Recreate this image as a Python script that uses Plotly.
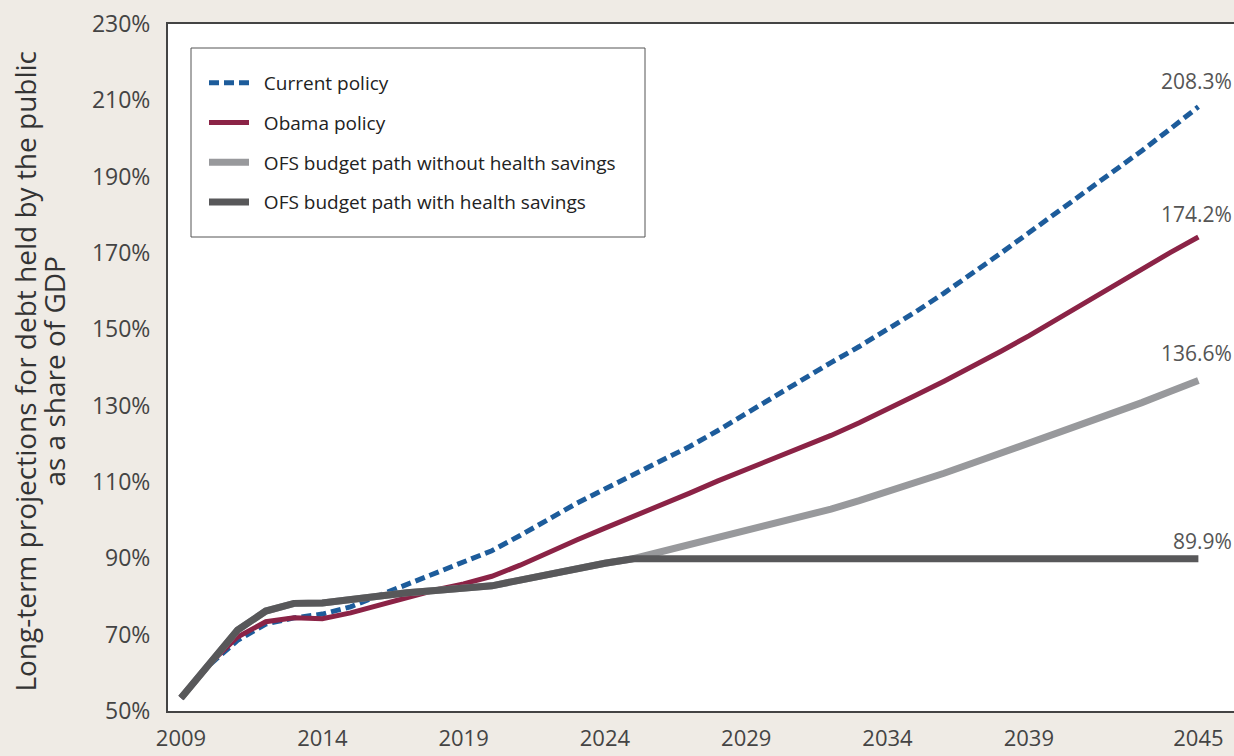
import plotly.graph_objects as go

years = list(range(2009, 2046))

current_policy = [53.4, 62.0, 68.5, 72.8, 74.4, 75.4, 77.3, 80.2, 83.0, 86.0, 88.8,
                  92.0, 96.0, 100.3, 104.4, 108.2, 111.8, 115.4, 119.3, 123.5, 128.0,
                  132.6, 137.0, 141.3, 145.5, 149.9, 154.6, 159.5, 164.6, 169.9, 175.3,
                  180.6, 185.9, 191.3, 196.8, 202.5, 208.3]

obama_policy = [53.4, 62.3, 69.4, 73.4, 74.4, 74.2, 75.7, 77.8, 79.9, 81.7, 83.3,
                85.3, 88.2, 91.6, 94.8, 97.9, 100.9, 104.0, 107.1, 110.3, 113.3,
                116.3, 119.1, 122.2, 125.5, 129.0, 132.7, 136.4, 140.2, 144.2, 148.3,
                152.7, 157.2, 161.6, 165.9, 170.1, 174.2]

ofs_without_health = [53.4, 62.6, 71.2, 76.2, 78.2, 78.3, 79.2, 80.3, 81.0, 81.6, 82.1,
                      82.8, 84.3, 85.9, 87.4, 88.7, 89.9, 91.7, 93.5, 95.4, 97.3,
                      99.1, 100.9, 102.9, 105.1, 107.4, 109.8, 112.3, 114.9, 117.5, 120.1,
                      122.6, 125.3, 128.0, 130.8, 133.7, 136.6]

ofs_with_health = [53.4, 62.6, 71.2, 76.2, 78.2, 78.3, 79.2, 80.3, 81.0, 81.6, 82.1,
                   82.8, 84.3, 85.9, 87.4, 88.7, 89.9, 89.9, 89.9, 89.9, 89.9,
                   89.9, 89.9, 89.9, 89.9, 89.9, 89.9, 89.9, 89.9, 89.9, 89.9,
                   89.9, 89.9, 89.9, 89.9, 89.9, 89.9]

series_names = ["Current policy", "Obama policy",
                "OFS budget path without health savings",
                "OFS budget path with health savings"]
series_values = [current_policy, obama_policy, ofs_without_health, ofs_with_health]

x_tickvals = [2009, 2014, 2019, 2024, 2029, 2034, 2039, 2045]
y_tickvals = [50, 70, 90, 110, 130, 150, 170, 190, 210, 230]
y_ticktext = [f"{v}%" for v in y_tickvals]

line_styles = [
    dict(color="#1d5c9b", width=5, dash="10px,5px"),
    dict(color="#8b2346", width=5),
    dict(color="#98999c", width=7),
    dict(color="#58585a", width=7),
]
label_yshift = [26, 23, 27, 18]

FONT = "Open Sans"
NB = "\u00a0\u00a0"

fig = go.Figure()
for i, (name, vals) in enumerate(zip(series_names, series_values)):
    fig.add_trace(go.Scatter(x=years, y=vals, mode="lines", name=NB + name,
                             line=line_styles[i], legendgroup=f"g{i}"))

annotations = []
for i, vals in enumerate(series_values):
    annotations.append(dict(x=years[-1], y=vals[-1], xref="x", yref="y",
                            text=f"{vals[-1]:.1f}%", showarrow=False,
                            xanchor="right", yanchor="middle", xshift=36,
                            yshift=label_yshift[i],
                            font=dict(family=FONT, size=21, color="#555555")))

title_lines = ["Long-term projections for debt held by the public", "as a share of GDP"]
title_x_px = [25, 54]
for t, xp in zip(title_lines, title_x_px):
    annotations.append(dict(x=(xp - 168) / 1066, y=0.494, xref="paper", yref="paper",
                            text=t, textangle=-90, showarrow=False,
                            xanchor="center", yanchor="middle",
                            font=dict(family=FONT, size=28, color="#333333")))


def px_x(p):
    return (p - 168) / 1066


def px_y(p):
    return 1 - (p - 24) / 687


shapes = [dict(type="rect", xref="paper", yref="paper",
               x0=px_x(191), x1=px_x(645), y0=px_y(237), y1=px_y(48),
               line=dict(color="#555555", width=1), fillcolor="#ffffff", layer="below")]

fig.update_layout(
    width=1234, height=756,
    margin=dict(l=168, r=0, t=24, b=45),
    paper_bgcolor="#efebe5",
    plot_bgcolor="#ffffff",
    font=dict(family=FONT, color="#444444"),
    showlegend=True,
    legend=dict(x=px_x(204), y=px_y(64), xanchor="left", yanchor="top",
                bgcolor="rgba(0,0,0,0)", borderwidth=0,
                font=dict(family=FONT, size=19, color="#222222"),
                tracegroupgap=12, itemwidth=40, traceorder="grouped"),
    annotations=annotations,
    shapes=shapes,
    xaxis=dict(range=[2008.54, 2046.26], tickvals=x_tickvals, showgrid=False,
               zeroline=False, showline=True, linecolor="#444444", linewidth=2,
               mirror=True, ticks="outside", ticklen=7, tickcolor="rgba(0,0,0,0)",
               automargin=False,
               tickfont=dict(family=FONT, size=22, color="#444444")),
    yaxis=dict(range=[50, 230], tickvals=y_tickvals, ticktext=y_ticktext, showgrid=False,
               zeroline=False, showline=True, linecolor="#444444", linewidth=2,
               mirror=False, ticks="outside", ticklen=11, tickcolor="rgba(0,0,0,0)",
               automargin=False,
               tickfont=dict(family=FONT, size=23, color="#444444")),
)

fig.write_html("out.html", config={"displayModeBar": False},
               post_script="document.body.style.margin='0';document.body.style.overflow='hidden';")
